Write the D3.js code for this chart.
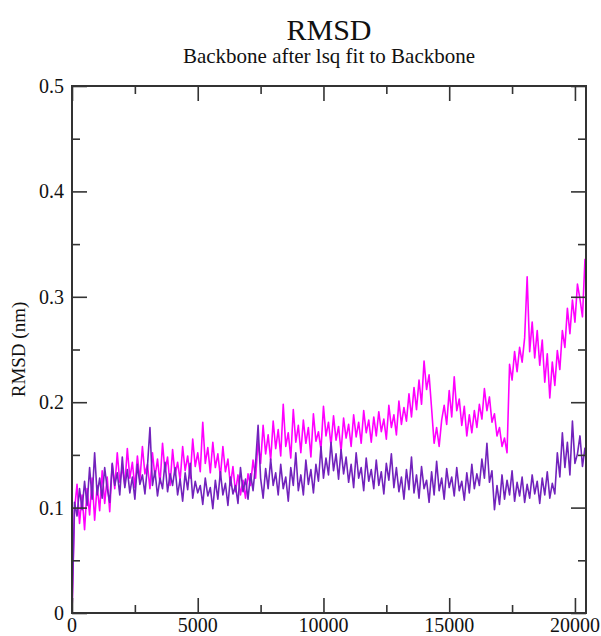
<!DOCTYPE html>
<html>
<head>
<meta charset="utf-8">
<script src="https://cdn.jsdelivr.net/npm/d3@7"></script>
</head>
<body style="margin:0">
<script>
// time step of the samples, ps
const dt = 100

// RMSD (nm), purple trace
const rmsdA = [
  0.000,
  0.105, 0.092, 0.118, 0.098, 0.125, 0.102, 0.138, 0.108, 0.152, 0.112,
  0.128, 0.109, 0.138, 0.118, 0.105, 0.142, 0.121, 0.133, 0.112, 0.148,
  0.119, 0.136, 0.114, 0.129, 0.108, 0.141, 0.122, 0.131, 0.113, 0.139,
  0.176, 0.121, 0.135, 0.111, 0.128, 0.118, 0.143, 0.115, 0.132, 0.121,
  0.138, 0.112, 0.127, 0.106, 0.133, 0.117, 0.142, 0.109, 0.125, 0.114,
  0.121, 0.103, 0.128, 0.111, 0.119, 0.099, 0.126, 0.108, 0.134, 0.112,
  0.123, 0.102, 0.129, 0.113, 0.121, 0.104, 0.138, 0.115, 0.127, 0.108,
  0.132, 0.116, 0.142, 0.178, 0.128, 0.109, 0.137, 0.118, 0.146, 0.121,
  0.133, 0.112, 0.141, 0.118, 0.129, 0.106, 0.138, 0.121, 0.152, 0.116,
  0.131, 0.112, 0.145, 0.122, 0.136, 0.114, 0.141, 0.125, 0.158, 0.128,
  0.147, 0.131, 0.162, 0.135, 0.151, 0.127, 0.155, 0.132, 0.148, 0.124,
  0.141, 0.119, 0.152, 0.128, 0.138, 0.116, 0.147, 0.125, 0.136, 0.118,
  0.145, 0.121, 0.134, 0.113, 0.142, 0.126, 0.151, 0.119, 0.138, 0.115,
  0.129, 0.108, 0.136, 0.117, 0.148, 0.114, 0.131, 0.109, 0.139, 0.118,
  0.126, 0.105, 0.134, 0.112, 0.144, 0.116, 0.128, 0.108, 0.137, 0.119,
  0.129, 0.111, 0.138, 0.116, 0.125, 0.107, 0.133, 0.114, 0.141, 0.118,
  0.132, 0.121, 0.146, 0.128, 0.161, 0.124, 0.135, 0.098, 0.121, 0.103,
  0.131, 0.108, 0.126, 0.112, 0.135, 0.106, 0.124, 0.111, 0.129, 0.105,
  0.122, 0.109, 0.131, 0.113, 0.125, 0.104, 0.128, 0.112, 0.134, 0.109,
  0.123, 0.113, 0.152, 0.129, 0.171, 0.138, 0.162, 0.131, 0.182, 0.142,
  0.151, 0.168, 0.139, 0.157
]

// RMSD (nm), magenta trace
const rmsdB = [
  0.000,
  0.098, 0.122, 0.085, 0.112, 0.079, 0.118, 0.093, 0.128, 0.088, 0.121,
  0.097, 0.135, 0.104, 0.129, 0.096, 0.141, 0.118, 0.152, 0.124, 0.138,
  0.121, 0.156, 0.128, 0.143, 0.119, 0.149, 0.126, 0.158, 0.132, 0.141,
  0.118, 0.152, 0.129, 0.146, 0.123, 0.161, 0.134, 0.148, 0.121, 0.155,
  0.131, 0.143, 0.126, 0.158, 0.135, 0.149, 0.128, 0.165, 0.139, 0.152,
  0.134, 0.181, 0.142, 0.157, 0.133, 0.162, 0.138, 0.151, 0.129, 0.158,
  0.134, 0.146, 0.121, 0.139, 0.115, 0.131, 0.112, 0.126, 0.109, 0.132,
  0.121, 0.145, 0.128, 0.163, 0.142, 0.178, 0.151, 0.169, 0.145, 0.182,
  0.156, 0.174, 0.149, 0.198, 0.158, 0.171, 0.147, 0.193, 0.162, 0.178,
  0.152, 0.183, 0.161, 0.176, 0.148, 0.189, 0.163, 0.172, 0.155, 0.196,
  0.168, 0.181, 0.159, 0.187, 0.164, 0.177, 0.153, 0.185, 0.166, 0.179,
  0.158, 0.188, 0.167, 0.181, 0.161, 0.192, 0.171, 0.183, 0.162, 0.186,
  0.168, 0.191, 0.172, 0.184, 0.165, 0.197, 0.176, 0.188, 0.169, 0.201,
  0.179, 0.195, 0.182, 0.208, 0.186, 0.214, 0.193, 0.221, 0.198, 0.239,
  0.212, 0.226, 0.194, 0.161, 0.176, 0.158, 0.183, 0.197, 0.179, 0.211,
  0.186, 0.224, 0.192, 0.203, 0.178, 0.196, 0.168, 0.188, 0.171, 0.192,
  0.176, 0.198, 0.184, 0.213, 0.192, 0.205, 0.181, 0.189, 0.168, 0.176,
  0.158, 0.166, 0.152, 0.236, 0.221, 0.248, 0.229, 0.252, 0.238, 0.261,
  0.319, 0.248, 0.276, 0.242, 0.268, 0.235, 0.259, 0.219, 0.246, 0.204,
  0.238, 0.216, 0.249, 0.231, 0.268, 0.252, 0.289, 0.265, 0.297, 0.276,
  0.312, 0.298, 0.281, 0.336
]

const xMajor = [0, 5000, 10000, 15000, 20000]
const xMinor = [2500, 7500, 12500, 17500]
const yMajor = [0, 0.1, 0.2, 0.3, 0.4, 0.5]
const yMinor = [0.05, 0.15, 0.25, 0.35, 0.45]

const title = "RMSD"
const subtitle = "Backbone after lsq fit to Backbone"
const yLabel = "RMSD (nm)"

const width = 601
const height = 636
const margin = {left: 72, right: 15, top: 86, bottom: 23}
const xMax = 20440
const serif = "Liberation Serif"

const svg = d3.select("body")
    .append("svg")
    .attr("width", width)
    .attr("height", height)

const x = d3.scaleLinear()
    .domain([0, xMax])
    .range([margin.left, width - margin.right])

const y = d3.scaleLinear()
    .domain([0, 0.5])
    .range([height - margin.bottom, margin.top])

const line = d3.line()
    .x((d, i) => x(i * dt))
    .y(d => y(d))

const plot = svg.append("g")

plot.append("path")
    .datum(rmsdB)
    .attr("fill", "none")
    .attr("stroke", "#ff00ff")
    .attr("stroke-width", 1.6)
    .attr("stroke-linejoin", "round")
    .attr("d", line)

plot.append("path")
    .datum(rmsdA)
    .attr("fill", "none")
    .attr("stroke", "#7222bc")
    .attr("stroke-width", 1.6)
    .attr("stroke-linejoin", "round")
    .attr("d", line)

// frame with inward ticks on all four sides
const axisColor = "#333"

function drawAxis(ax, minorAx, transform){
    const g = svg.append("g").attr("transform", transform).call(ax)
    g.append("g").call(minorAx)
    g.selectAll("path.domain").remove()
    g.selectAll("line").attr("stroke", axisColor).attr("stroke-width", 1.6)
    g.selectAll("text").remove()
}

drawAxis(d3.axisBottom(x).tickValues(xMajor).tickSize(-15),
    d3.axisBottom(x).tickValues(xMinor).tickSize(-8), `translate(0,${y(0)})`)
drawAxis(d3.axisTop(x).tickValues(xMajor).tickSize(-15),
    d3.axisTop(x).tickValues(xMinor).tickSize(-8), `translate(0,${y(0.5)})`)
drawAxis(d3.axisLeft(y).tickValues(yMajor).tickSize(-15),
    d3.axisLeft(y).tickValues(yMinor).tickSize(-8), `translate(${x(0)},0)`)
drawAxis(d3.axisRight(y).tickValues(yMajor).tickSize(-15),
    d3.axisRight(y).tickValues(yMinor).tickSize(-8), `translate(${x(xMax)},0)`)

svg.append("rect")
    .attr("x", x(0))
    .attr("y", y(0.5))
    .attr("width", x(xMax) - x(0))
    .attr("height", y(0) - y(0.5))
    .attr("fill", "none")
    .attr("stroke", axisColor)
    .attr("stroke-width", 2)

// texts: one helper so every label gets the serif face
function addText(parent, size){
    return parent.append("text")
        .attr("font-family", serif)
        .style("font-family", `"${serif}"`)
        .attr("font-size", size)
        .attr("fill", "#111")
}

xMajor.forEach(d => {
    addText(svg, 20)
        .attr("x", x(d))
        .attr("y", y(0) + 19)
        .attr("text-anchor", "middle")
        .text(d)
})

yMajor.forEach(d => {
    addText(svg, 20)
        .attr("x", x(0) - 8)
        .attr("y", y(d) + 7)
        .attr("text-anchor", "end")
        .text(d === 0 ? "0" : d3.format(".1f")(d))
})

addText(svg, 19)
    .attr("transform", `translate(25,${(y(0) + y(0.5)) / 2}) rotate(-90)`)
    .attr("text-anchor", "middle")
    .text(yLabel)

addText(svg, 30)
    .attr("x", (x(0) + x(xMax)) / 2)
    .attr("y", 40)
    .attr("text-anchor", "middle")
    .text(title)

addText(svg, 21)
    .attr("x", (x(0) + x(xMax)) / 2)
    .attr("y", 63)
    .attr("text-anchor", "middle")
    .text(subtitle)
</script>
</body>
</html>
